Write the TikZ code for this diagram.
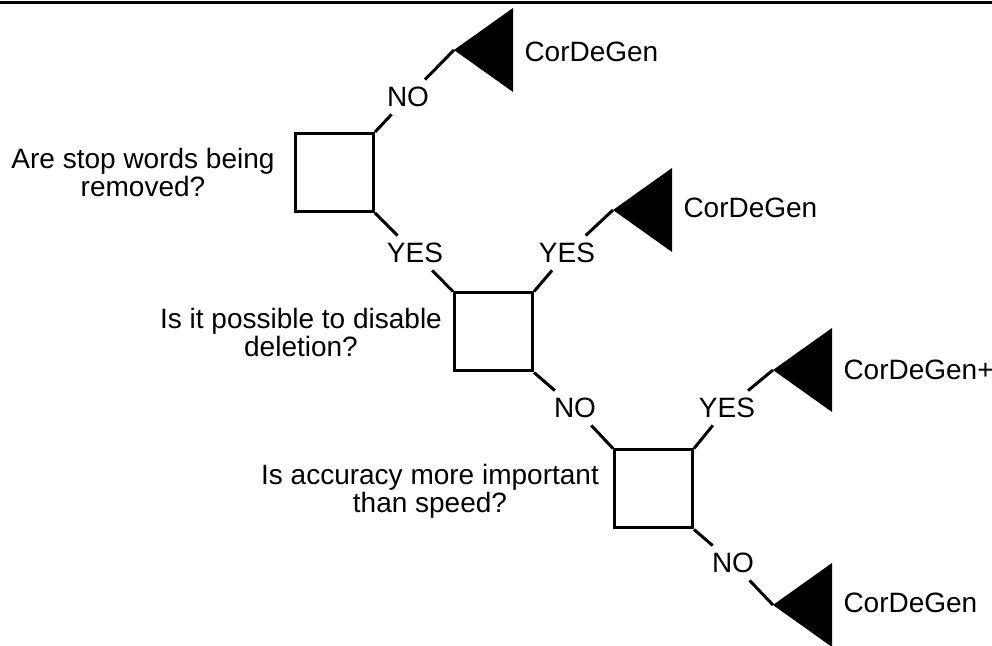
\documentclass[tikz,border=0pt]{standalone}
\usepackage{fontspec}
\setmainfont{Liberation Sans}
\usetikzlibrary{positioning}

\begin{document}
\begin{tikzpicture}[x=0.5pt,y=-0.5pt,line width=1.5pt,
  every node/.style={font=\fontsize{14}{14}\selectfont},
  decision/.style={draw,rectangle,minimum size=39pt,inner sep=0pt},
  question/.style={align=center,inner sep=0pt},
  answer/.style={inner sep=3pt},
  outcome/.style={anchor=west,inner sep=0pt}]
\useasboundingbox (0,0) rectangle (992,646);
\draw (0,3) -- (992,3);

% decisions
\node[decision] (stop) at (334.5,172.5) {};
\node[decision] (delete) at (493.5,332) {};
\node[decision] (speed) at (653.5,489) {};
\node[question] (stopq) at (143,172) {Are stop words being\\removed?};
\node[question] (deleteq) at (301,332) {Is it possible to disable\\deletion?};
\node[question] (speedq) at (430,491) {Is accuracy more important\\than speed?};

% leaves
\coordinate (gen1) at (454,50);
\coordinate (gen2) at (613,210);
\coordinate (gen3) at (773,370);
\coordinate (gen4) at (773,605);
\foreach \g in {gen1,gen2,gen3,gen4}
  \fill (\g) -- ++(59,-42) -- ++(0,84) -- cycle;
\node[outcome] (gen1txt) at (523,52) {CorDeGen};
\node[outcome] (gen2txt) at (682,208) {CorDeGen};
\node[outcome] (gen3txt) at (842,370) {CorDeGen+};
\node[outcome] (gen4txt) at (842,603) {CorDeGen};

% answers
\node[answer] (stopno) at (408,97) {NO};
\node[answer] (stopyes) at (415,253) {YES};
\node[answer] (deleteyes) at (567,253) {YES};
\node[answer] (deleteno) at (575,408) {NO};
\node[answer] (speedyes) at (727,408) {YES};
\node[answer] (speedno) at (733,563) {NO};

\draw (stop.north east) -- (stopno) -- (gen1);
\draw (stop.south east) -- (stopyes) -- (delete.north west);
\draw (delete.north east) -- (deleteyes) -- (gen2);
\draw (delete.south east) -- (deleteno) -- (speed.north west);
\draw (speed.north east) -- (speedyes) -- (gen3);
\draw (speed.south east) -- (speedno) -- (gen4);

\end{tikzpicture}
\end{document}
